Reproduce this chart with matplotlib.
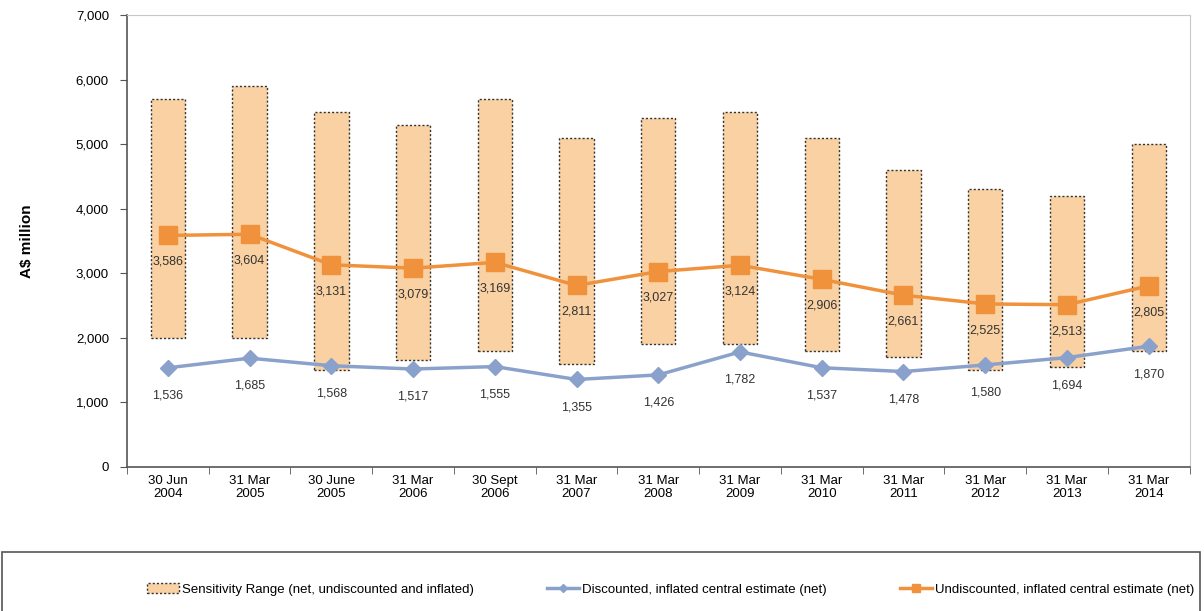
import matplotlib.pyplot as plt
from matplotlib.patches import Rectangle

plt.rcParams['font.family'] = ['Liberation Sans', 'DejaVu Sans']

dates = ['30 Jun\n2004', '31 Mar\n2005', '30 June\n2005', '31 Mar\n2006', '30 Sept\n2006',
         '31 Mar\n2007', '31 Mar\n2008', '31 Mar\n2009', '31 Mar\n2010', '31 Mar\n2011',
         '31 Mar\n2012', '31 Mar\n2013', '31 Mar\n2014']
range_low = [2000, 2000, 1500, 1650, 1800, 1600, 1900, 1900, 1800, 1700, 1500, 1550, 1800]
range_high = [5700, 5900, 5500, 5300, 5700, 5100, 5400, 5500, 5100, 4600, 4300, 4200, 5000]
discounted = [1536, 1685, 1568, 1517, 1555, 1355, 1426, 1782, 1537, 1478, 1580, 1694, 1870]
undiscounted = [3586, 3604, 3131, 3079, 3169, 2811, 3027, 3124, 2906, 2661, 2525, 2513, 2805]

bar_fill = '#f9d1a3'
orange = '#f0923b'
blue = '#8aa2cb'

fig = plt.figure(figsize=(12.04, 6.11), dpi=100)
ax = fig.add_axes([0.1055, 0.2357, 0.8825, 0.7398])

x = list(range(len(dates)))
heights = [h - l for h, l in zip(range_high, range_low)]
bars = ax.bar(x, heights, bottom=range_low, width=0.42, color=bar_fill, edgecolor='#333333',
              linestyle=(0, (1.5, 1.5)), linewidth=1.0, zorder=2,
              label='Sensitivity Range (net, undiscounted and inflated)')
line_d, = ax.plot(x, discounted, color=blue, lw=2.5, marker='D', ms=8, zorder=3,
                  label='Discounted, inflated central estimate (net)')
line_u, = ax.plot(x, undiscounted, color=orange, lw=2.5, marker='s', ms=13, zorder=4,
                  label='Undiscounted, inflated central estimate (net)')

for i in x:
    ax.annotate(f'{undiscounted[i]:,}', (i, undiscounted[i]), xytext=(0, -19),
                textcoords='offset points', ha='center', va='center', fontsize=9, color='#333333', zorder=5)
    ax.annotate(f'{discounted[i]:,}', (i, discounted[i]), xytext=(0, -20),
                textcoords='offset points', ha='center', va='center', fontsize=9, color='#333333', zorder=5)

ax.set_xlim(-0.5, len(dates) - 0.5)
ax.set_ylim(0, 7000)
ax.set_yticks(range(0, 7001, 1000))
ax.yaxis.set_major_formatter(plt.FuncFormatter(lambda v, p: f'{int(v):,}'))
ax.set_xticks(x)
ax.set_xticklabels(dates, fontsize=9.5, linespacing=1.1)
ax.set_xticks([i - 0.5 for i in range(len(dates) + 1)], minor=True)
ax.tick_params(axis='x', which='major', length=0, pad=6)
ax.tick_params(axis='x', which='minor', length=5, color='#555555')
ax.tick_params(axis='y', labelsize=9.5, length=5, color='#555555', pad=8)
ax.set_ylabel('A$ million', fontsize=11, fontweight='bold', labelpad=30)

for side in ['top', 'right']:
    ax.spines[side].set_color('#c8c8c8')
for side in ['left', 'bottom']:
    ax.spines[side].set_color('#555555')
    ax.spines[side].set_linewidth(1.2)

fig.patches.append(Rectangle((0.002, -0.05), 0.995, 0.147, transform=fig.transFigure,
                             fill=False, edgecolor='#555555', linewidth=1.2))
fig.legend(handles=[bars, line_d, line_u], loc='center', bbox_to_anchor=(0.557, 0.035),
           ncol=3, frameon=False, fontsize=9.5, handlelength=2.4, handletextpad=0.2,
           columnspacing=5.6, markerscale=0.45)

fig.savefig('out.png', dpi=100)
